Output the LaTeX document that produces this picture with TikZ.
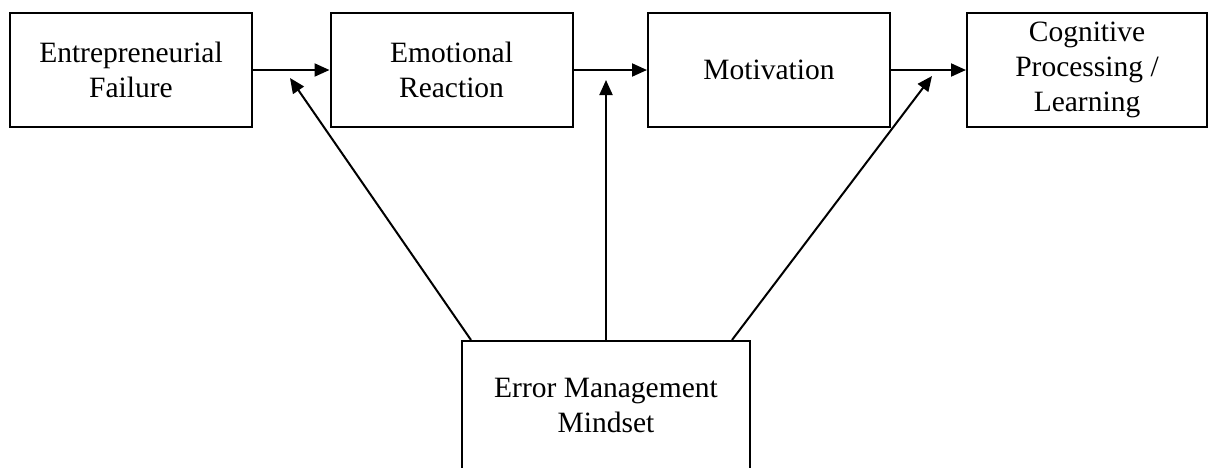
\documentclass[tikz,border=0pt]{standalone}
\usepackage{fontspec}
\setmainfont{Liberation Serif}
\usetikzlibrary{arrows.meta,calc}
\begin{document}
\begin{tikzpicture}[x=1pt,y=-1pt,
  box/.style={draw,line width=2pt,minimum width=242pt,minimum height=114pt,
    inner sep=0pt,align=center,font=\fontsize{29.5}{35}\selectfont},
  conn/.style={line width=2pt,-{Triangle[length=15pt,width=13pt]}}]
\useasboundingbox (0,0) rectangle (1208,467);
\node[box] (ef) at (131,70) {Entrepreneurial\\Failure};
\node[box] (er) at (451.5,70) {Emotional\\Reaction};
\node[box] (mo) at (769,70) {Motivation};
\node[box,minimum width=240pt] (cp) at (1087,70) {Cognitive\\Processing /\\Learning};
\node[box,minimum width=288pt,minimum height=128pt] (em) at (606,405) {Error Management\\Mindset};
\coordinate (t1) at (290,78);
\coordinate (t2) at (606,80);
\coordinate (t3) at (932,76);
\draw[conn] (ef.east) -- (er.west);
\draw[conn] (er.east) -- (mo.west);
\draw[conn] (mo.east) -- (cp.west);
\draw[conn] ([xshift=10pt]em.north west) -- (t1);
\draw[conn] (em.north) -- (t2);
\draw[conn] ([xshift=-19pt]em.north east) -- (t3);
\end{tikzpicture}
\end{document}
